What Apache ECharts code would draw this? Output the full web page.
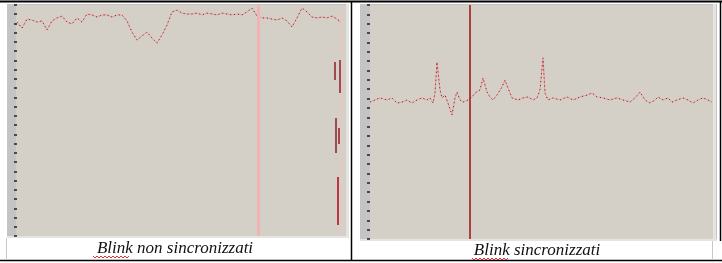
<!DOCTYPE html>
<html><head><meta charset="utf-8">
<script src="https://cdn.jsdelivr.net/npm/echarts@6/dist/echarts.min.js"></script>
<style>html,body{margin:0;padding:0;background:#fff}#c{width:722px;height:263px}</style>
</head><body><div id="c"></div>
<script>
// ---- data (left panel: "Blink non sincronizzati") ----
var leftValues = [92.6,90.0,93.9,93.5,92.6,93.1,89.2,93.1,94.4,95.2,92.6,91.8,94.4,92.6,96.1,95.7,94.8,95.7,95.7,94.8,95.7,95.7,93.1,88.3,84.8,86.6,88.3,85.7,83.5,87.0,91.3,97.0,97.8,96.5,96.1,96.1,96.5,95.7,96.5,96.1,95.7,96.5,96.1,95.7,96.1,95.7,97.0,98.7,95.2,94.4,94.4,93.9,93.5,94.4,93.1,90.5,94.4,98.7,97.0,94.8,94.4,94.8,94.4,95.2,93.9,92.2];
var leftMarkerPink = 48.2;
var leftMarkerEdge = 64.8;
// blink segments: [time, from, to]
var leftBlinkSegments = [[63.6,75.3,67.5],[64.6,76.2,61.9],[63.8,51.1,35.9],[64.4,46.8,39.8],[64.2,25.5,4.8]];

// ---- data (right panel: "Blink sincronizzati") ----
var rightTimes = [0,1,2,3.4,4.4,5.4,6.4,7.4,8.4,9.4,10.4,11.4,12,12.6,13,13.4,13.6,14,14.4,15,15.6,16.4,17,17.4,18,18.6,19.6,20.4,21,22,22.6,23.4,24,24.6,25.4,26.4,27,27.6,28.4,29.6,30.6,31.6,32.6,33.4,34,34.6,35,35.6,36.6,38,39.4,40.6,42,43.4,44.4,45.4,46.6,48,49.4,50.6,52,53,54,55,56,57,57.6,58.6,59.6,60.4,61.4,62.6,63.6,64.6,65.6,66.6,67.6,68.4];
var rightValues = [58.5,59.4,60.3,59.4,60.3,58.1,58.5,59.4,58.1,59.4,60.3,59.4,60.3,58.1,62.4,75.6,75.2,63.7,60.3,61.5,58.1,53.0,60.3,62.8,59.4,58.5,59.4,60.7,62.4,63.7,68.8,62.8,60.7,59.4,61.5,65.0,67.9,64.5,60.3,59.4,60.3,60.7,59.4,60.3,63.7,77.4,62.4,59.4,60.3,59.4,60.7,59.4,60.7,61.5,62.4,60.7,60.3,59.4,60.3,59.4,58.5,60.3,62.8,59.4,58.1,59.4,60.7,59.4,60.3,58.5,59.4,60.3,59.4,58.1,59.4,60.3,59.4,58.5];
var rightMarker = 20;

var captions = ["Blink non sincronizzati", "Blink sincronizzati"];

// ---- build ----
var leftData = leftValues.map(function(v,i){return [i, v];});
var rightData = rightTimes.map(function(t,i){return [t, rightValues[i]];});

function axisPair(idx, min, max){
  return {
    x: {type:'value', gridIndex:idx, min:min, max:max, show:false},
    y: {type:'value', gridIndex:idx, min:0, max:100, interval:4,
        axisLine:{show:false}, splitLine:{show:false}, axisLabel:{show:false},
        axisTick:{show:true, inside:false, length:3, lineStyle:{color:'#222', width:1.5}}}
  };
}
var a0 = axisPair(0, -0.2, 65.8), a1 = axisPair(1, 0, 68.6);

function traceSeries(idx, data, extra){
  var base = {type:'line', xAxisIndex:idx, yAxisIndex:idx, data:data, symbol:'none', silent:true,
    lineStyle:{color:'#e9a0a0', width:1}, animation:false, z:3};
  var dots = {type:'line', xAxisIndex:idx, yAxisIndex:idx, data:data, symbol:'none', silent:true,
    lineStyle:{color:'#7a1a1a', width:1, type:[1,3]}, animation:false, z:4};
  if (extra) base.markLine = extra;
  return [base, dots];
}

var leftMark = {symbol:'none', silent:true, label:{show:false}, animation:false,
  data: [
    {xAxis:leftMarkerPink, lineStyle:{color:'#f0b4b4', width:3, type:'solid'}},
    {xAxis:leftMarkerEdge, lineStyle:{color:'#eec4c4', width:1, type:'solid'}}
  ].concat(leftBlinkSegments.map(function(s, k){
    return [{coord:[s[0], s[1]], lineStyle:{color: k===4 ? '#b8384a' : '#8e1f2c', width: k===4 ? 2 : 1.5, type:'solid'}},
            {coord:[s[0], s[2]]}];
  }))
};
var rightMark = {symbol:'none', silent:true, label:{show:false}, animation:false,
  data:[{xAxis:rightMarker, lineStyle:{color:'#9e1010', width:1.5, type:'solid'}}]};

function squiggle(x0, x1, y){
  var pts=[]; var up=true;
  for (var x=x0; x<=x1; x+=2){ pts.push([x, up? y : y+2]); up=!up; }
  return {type:'polyline', shape:{points:pts}, style:{stroke:'#e03030', lineWidth:1, fill:null}, silent:true, z:10};
}

var chart = echarts.init(document.getElementById('c'), null, {renderer:'canvas'});
chart.setOption({
  animation:false,
  backgroundColor:'#ffffff',
  grid:[
    {left:16, top:5, width:330, height:231, show:true, backgroundColor:'#d4d0c8', borderWidth:0},
    {left:370, top:5, width:343, height:234, show:true, backgroundColor:'#d4d0c8', borderWidth:0}
  ],
  xAxis:[a0.x, a1.x],
  yAxis:[a0.y, a1.y],
  series: traceSeries(0, leftData, leftMark).concat(traceSeries(1, rightData, rightMark)),
  graphic:[
    // panel frames
    {type:'rect', shape:{x:7, y:4, width:342, height:234}, style:{fill:'#c4c4c4'}, z:-10, silent:true},
    {type:'rect', shape:{x:346, y:4, width:3, height:234}, style:{fill:'#e6e4e0'}, z:-9, silent:true},
    {type:'rect', shape:{x:7, y:236, width:342, height:2}, style:{fill:'#e6e4e0'}, z:-9, silent:true},
    {type:'rect', shape:{x:360, y:4, width:357, height:237}, style:{fill:'#c4c4c4'}, z:-10, silent:true},
    {type:'rect', shape:{x:713, y:4, width:3, height:237}, style:{fill:'#e6e4e0'}, z:-9, silent:true},
    {type:'rect', shape:{x:360, y:239, width:357, height:2}, style:{fill:'#e6e4e0'}, z:-9, silent:true},
    // table lines
    {type:'line', shape:{x1:0, y1:1.5, x2:722, y2:1.5}, style:{stroke:'#000', lineWidth:2}, silent:true},
    {type:'line', shape:{x1:0, y1:260.5, x2:722, y2:260.5}, style:{stroke:'#000', lineWidth:1.5}, silent:true},
    {type:'line', shape:{x1:351.5, y1:1, x2:351.5, y2:261}, style:{stroke:'#000', lineWidth:1.5}, silent:true},
    {type:'line', shape:{x1:720.5, y1:1, x2:720.5, y2:241}, style:{stroke:'#000', lineWidth:1.5}, silent:true},
    {type:'line', shape:{x1:6.5, y1:238, x2:6.5, y2:260}, style:{stroke:'#c8c8c8', lineWidth:1}, silent:true},
    {type:'line', shape:{x1:712.5, y1:241, x2:712.5, y2:260}, style:{stroke:'#c8c8c8', lineWidth:1}, silent:true},
    // captions
    {type:'text', x:175, y:249, style:{text:captions[0], align:'center', verticalAlign:'middle',
      font:'italic 17px "Liberation Serif", serif', fill:'#111'}, silent:true, z:10},
    {type:'text', x:537, y:251, style:{text:captions[1], align:'center', verticalAlign:'middle',
      font:'italic 17px "Liberation Serif", serif', fill:'#111'}, silent:true, z:10},
    squiggle(93, 130, 256),
    squiggle(472, 508, 258)
  ]
});
</script></body></html>
